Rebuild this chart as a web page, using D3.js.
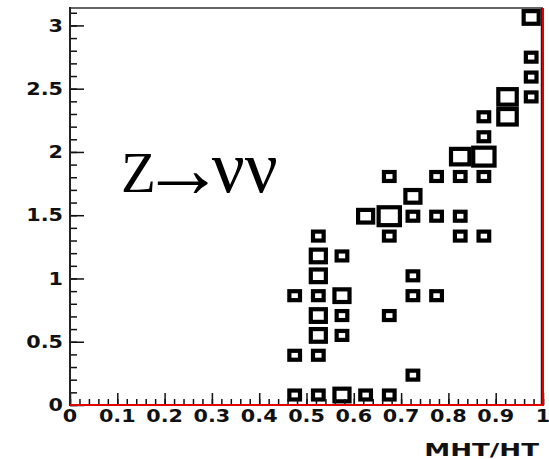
<!DOCTYPE html>
<html lang="en">
<head>
<meta charset="UTF-8">
<title>MHT/HT box plot</title>
<script src="https://d3js.org/d3.v7.min.js"></script>
<style>
  body { margin: 0; background: #fff; }
  .lbl { font-family: "DejaVu Sans", sans-serif; font-weight: bold; font-size: 17px; fill: #111; }
  .proc { font-family: "Liberation Serif", "Times New Roman", serif; fill: #000; }
</style>
</head>
<body>
<svg id="chart" width="549" height="459"></svg>
<script>
// bin centres (x = MHT/HT, y = delta phi) and bin contents
const mhtHt = [
  0.475, 0.525, 0.575, 0.625, 0.675,
  0.725,
  0.475, 0.525,
  0.525, 0.575,
  0.525, 0.575, 0.675,
  0.475, 0.525, 0.575, 0.725, 0.775,
  0.525, 0.725,
  0.525, 0.575,
  0.525, 0.675, 0.825, 0.875,
  0.625, 0.675, 0.725, 0.775, 0.825,
  0.725,
  0.675, 0.775, 0.825, 0.875,
  0.825, 0.875,
  0.875,
  0.875, 0.925,
  0.925, 0.975,
  0.975,
  0.975,
  0.975
];
const dPhi = [
  0.079, 0.079, 0.079, 0.079, 0.079,
  0.236,
  0.393, 0.393,
  0.550, 0.550,
  0.707, 0.707, 0.707,
  0.864, 0.864, 0.864, 0.864, 0.864,
  1.021, 1.021,
  1.178, 1.178,
  1.335, 1.335, 1.335, 1.335,
  1.492, 1.492, 1.492, 1.492, 1.492,
  1.649,
  1.806, 1.806, 1.806, 1.806,
  1.963, 1.963,
  2.120,
  2.278, 2.278,
  2.435, 2.435,
  2.592,
  2.749,
  3.063
];
const weight = [
  1, 1, 2, 1, 1,
  1,
  1, 1,
  2, 1,
  2, 1, 1,
  1, 1, 2, 1, 1,
  2, 1,
  2, 1,
  1, 1, 1, 1,
  2, 4, 1, 1, 1,
  2,
  1, 1, 1, 1,
  3, 4,
  1,
  1, 3,
  3, 1,
  1,
  1,
  2
];
const xTickLabels = ["0", "0.1", "0.2", "0.3", "0.4", "0.5", "0.6", "0.7", "0.8", "0.9", "1"];
const yTickLabels = ["0", "0.5", "1", "1.5", "2", "2.5", "3"];

const nBinsX = 20, nBinsY = 20;
const yMax = Math.PI;

const svg = d3.select("#chart");
const padL = 70, padR = 543, padT = 7.5, padB = 405;

const x = d3.scaleLinear().domain([0, 1]).range([padL, padR]);
const y = d3.scaleLinear().domain([0, yMax]).range([padB, padT]);

const binW = x(1 / nBinsX) - x(0);
const binH = y(0) - y(yMax / nBinsY);
const ratio = d3.scaleSqrt().domain([0, d3.max(weight)]).range([0, 0.9]);

const cells = mhtHt.map((v, i) => ({ x: v, y: dPhi[i], w: weight[i] }));

// boxes
svg.append("g").selectAll("rect")
  .data(cells)
  .enter().append("rect")
  .attr("x", d => x(d.x) - ratio(d.w) * binW / 2)
  .attr("y", d => y(d.y) - ratio(d.w) * binH / 2)
  .attr("width", d => ratio(d.w) * binW)
  .attr("height", d => ratio(d.w) * binH)
  .attr("fill", "none")
  .attr("stroke", "#000")
  .attr("stroke-width", 4.2);

// frame
svg.append("line").attr("x1", padL).attr("x2", padR).attr("y1", 8).attr("y2", 8)
  .attr("stroke", "#666").attr("stroke-width", 2);
svg.append("line").attr("x1", padR - 1.5).attr("x2", padR - 1.5).attr("y1", 8).attr("y2", padB)
  .attr("stroke", "#222").attr("stroke-width", 1.5);

// x axis ticks (inward)
const xMajor = xTickLabels.map(Number);
const xMinor = d3.range(0, 1.0001, 0.02);
const xAxisMinor = svg.append("g").attr("transform", `translate(0,${padB})`)
  .call(d3.axisBottom(x).tickValues(xMinor).tickSize(-6).tickFormat(""));
const xAxisMajor = svg.append("g").attr("transform", `translate(0,${padB})`)
  .call(d3.axisBottom(x).tickValues(xMajor).tickSize(-12).tickFormat(""));

// y axis ticks (inward)
const yMajor = yTickLabels.map(Number);
const yMinor = d3.range(0, 3.15, 0.1);
const yAxisMinor = svg.append("g").attr("transform", `translate(${padL},0)`)
  .call(d3.axisLeft(y).tickValues(yMinor).tickSize(-7).tickFormat(""));
const yAxisMajor = svg.append("g").attr("transform", `translate(${padL},0)`)
  .call(d3.axisLeft(y).tickValues(yMajor).tickSize(-14).tickFormat(""));

[xAxisMinor, xAxisMajor, yAxisMinor, yAxisMajor].forEach(g => {
  g.selectAll(".domain").remove();
  g.selectAll(".tick line").attr("stroke", "#111").attr("stroke-width", 1.5);
});

// axis lines
svg.append("line").attr("x1", padL).attr("x2", padL).attr("y1", 7).attr("y2", padB + 1)
  .attr("stroke", "#222").attr("stroke-width", 2);
svg.append("line").attr("x1", padL).attr("x2", padR + 1).attr("y1", padB).attr("y2", padB)
  .attr("stroke", "#e00000").attr("stroke-width", 2);
svg.append("line").attr("x1", padR).attr("x2", padR).attr("y1", 8).attr("y2", padB)
  .attr("stroke", "#e00000").attr("stroke-width", 2);

// tick labels
svg.append("g").selectAll("text")
  .data(xTickLabels)
  .enter().append("text")
  .attr("class", "lbl")
  .attr("text-anchor", "middle")
  .attr("transform", d => `translate(${x(+d)},${padB + 17}) scale(1.22,1)`)
  .text(d => d);

svg.append("g").selectAll("text")
  .data(yTickLabels)
  .enter().append("text")
  .attr("class", "lbl")
  .attr("text-anchor", "end")
  .attr("dy", "0.36em")
  .attr("transform", d => `translate(${padL - 7},${y(+d)}) scale(1.22,1)`)
  .text(d => d);

// axis title
svg.append("text")
  .attr("class", "lbl")
  .attr("text-anchor", "end")
  .style("font-size", "18px")
  .attr("transform", `translate(539,456) scale(1.45,1)`)
  .text("MHT/HT");

// process label: Z -> nu nu (one text element, arrow enlarged)
const proc = svg.append("text").attr("class", "proc")
  .attr("x", 121).attr("y", 191.5)
  .style("font-size", "57px");
proc.append("tspan").text("Z");
proc.append("tspan")
  .style("font-size", "84px")
  .attr("dx", -15)
  .attr("dy", 5)
  .text("→");
proc.append("tspan")
  .style("font-size", "73px")
  .attr("dx", -13)
  .attr("dy", -5)
  .text("νν");
</script>
</body>
</html>
